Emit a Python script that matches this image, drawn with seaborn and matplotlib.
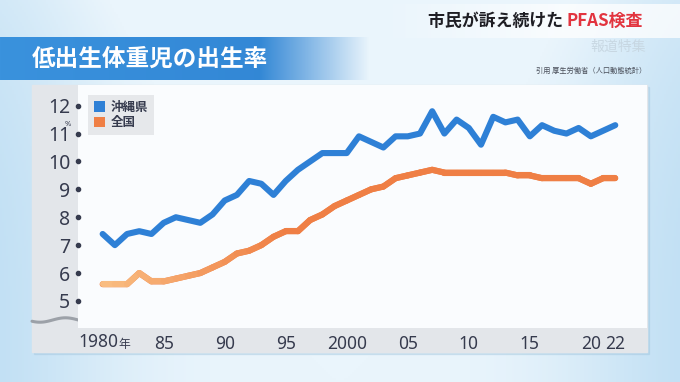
import numpy as np
import pandas as pd
import matplotlib
matplotlib.use("Agg")
import matplotlib.pyplot as plt
import matplotlib.transforms as mtransforms
from matplotlib.patches import Rectangle, Patch
from matplotlib.collections import LineCollection
from matplotlib.colors import to_rgb
import seaborn as sns

# ---------------- data ----------------
years = list(range(1980, 2023))
okinawa = [7.4, 7.0, 7.4, 7.5, 7.4, 7.8, 8.0, 7.9, 7.8, 8.1,
           8.6, 8.8, 9.3, 9.2, 8.8, 9.3, 9.7, 10.0, 10.3, 10.3,
           10.3, 10.9, 10.7, 10.5, 10.9, 10.9, 11.0, 11.8, 11.0, 11.5,
           11.2, 10.6, 11.6, 11.4, 11.5, 10.9, 11.3, 11.1, 11.0, 11.2,
           10.9, 11.1, 11.3]
zenkoku = [5.6, 5.6, 5.6, 6.0, 5.7, 5.7, 5.8, 5.9, 6.0, 6.2,
           6.4, 6.7, 6.8, 7.0, 7.3, 7.5, 7.5, 7.9, 8.1, 8.4,
           8.6, 8.8, 9.0, 9.1, 9.4, 9.5, 9.6, 9.7, 9.6, 9.6,
           9.6, 9.6, 9.6, 9.6, 9.5, 9.5, 9.4, 9.4, 9.4, 9.4,
           9.2, 9.4, 9.4]
series_names = ["沖縄県", "全国"]
ytick_values = [5, 6, 7, 8, 9, 10, 11, 12]
xtick_values = [1980, 1985, 1990, 1995, 2000, 2005, 2010, 2015, 2020, 2022]
xtick_labels = ["1980", "85", "90", "95", "2000", "05", "10", "15", "20", "22"]
title = "低出生体重児の出生率"
source = "引用 厚生労働省（人口動態統計）"

df = pd.DataFrame({
    "year": years * 2,
    "value": okinawa + zenkoku,
    "area": [series_names[0]] * len(years) + [series_names[1]] * len(years),
})

# ---------------- style ----------------
sns.set_style("white")
CJK = ["Noto Sans CJK JP", "DejaVu Sans"]
NUM = ["Noto Sans", "DejaVu Sans"]
plt.rcParams["font.family"] = CJK

BLUE = "#2E80D6"
ORANGE = "#EF7F45"
TXT = "#363B4E"

W, H = 680, 382
fig = plt.figure(figsize=(W / 100, H / 100), dpi=100)

# ---------------- background (pixel coordinates) ----------------
bg = fig.add_axes([0, 0, 1, 1])
bg.set_xlim(0, W)
bg.set_ylim(H, 0)
bg.axis("off")

xx = np.linspace(0, 1, 340)
yy = np.linspace(0, 1, 191)
X, Y = np.meshgrid(xx, yy)
edge = np.array(to_rgb("#BCDDF3"))
mid = np.array(to_rgb("#EAF5FC"))
w = np.exp(-((X - 0.5) / 0.42) ** 4)
w = np.clip(w + 0.35 * (1 - Y) ** 3, 0, 1)
img = edge[None, None, :] * (1 - w[..., None]) + mid[None, None, :] * w[..., None]
bg.imshow(img, extent=(0, W, H, 0), aspect="auto", zorder=0)

# white band behind the top-right headline
band = np.zeros((2, 300, 4))
band[..., :3] = 1.0
band[..., 3] = np.clip(np.linspace(0, 1.6, 300), 0, 1)[None, :] * 0.75
bg.imshow(band, extent=(380, W, 38, 4), aspect="auto", zorder=1)

# blue title banner
ban = np.zeros((2, 400, 4))
c1 = np.array(to_rgb("#3A92DD"))
c2 = np.array(to_rgb("#2F82D2"))
t = np.linspace(0, 1, 400)
ban[..., :3] = (c1[None, :] * (1 - t[:, None]) + c2[None, :] * t[:, None])[None, :, :]
alpha = np.clip((370 - np.linspace(0, 400, 400)) / 110, 0, 1)
ban[..., 3] = alpha[None, :]
bg.imshow(ban, extent=(0, 400, 80, 37), aspect="auto", zorder=2)

# chart panel
PL, PR, PT, PB, PBB = 32, 647, 85, 328, 352
AX_L = 78
bg.add_patch(Rectangle((PL + 2, PT + 2), PR - PL, PBB - PT, color="#9FC4DD", alpha=0.35, zorder=2))
bg.add_patch(Rectangle((PL, PT), PR - PL, PBB - PT, color="#E3E6EA", zorder=3))
# axis-break wave
wx = np.linspace(PL, AX_L, 60)
wy = 320 + 2.2 * np.sin((wx - PL) / (AX_L - PL) * 2 * np.pi * 0.9 + 0.6)
bg.plot(wx, wy, color="#9CA1A8", lw=2.2, solid_capstyle="round", zorder=4)

# texts on background
bg.text(32, 59, title, color="white", fontsize=17, fontweight="bold",
        va="center", ha="left", zorder=5)
t1 = bg.text(428, 21, "市民が訴え続けた ", color="#1E1E24", fontsize=12.2,
             fontweight="bold", va="center", ha="left", zorder=5)
bg.annotate("PFAS検査", xy=(1, 0.5), xycoords=t1, va="center", ha="left",
            color="#E2343F", fontsize=12.2, fontweight="bold", zorder=5)
bg.text(646, 47, "報道特集", color="#C6D5E0", fontsize=10, alpha=0.9,
        va="center", ha="right", zorder=5)
bg.text(646, 71, source, color="#4A4F5A", fontsize=5.2,
        va="center", ha="right", zorder=5)
bg.text(68, 124, "%", color=TXT, fontsize=5.5, family=NUM,
        va="center", ha="center", zorder=5)

# ---------------- main axes ----------------
ax = fig.add_axes([AX_L / W, (H - PB) / H, (PR - AX_L) / W, (PB - PT) / H])
ax.set_facecolor("#FAFCFE")
for s in ax.spines.values():
    s.set_visible(False)

sns.lineplot(data=df, x="year", y="value", hue="area", hue_order=series_names,
             palette={series_names[0]: BLUE, series_names[1]: ORANGE},
             linewidth=4.4, legend=False, ax=ax, zorder=3)
for ln in ax.lines:
    ln.set_solid_joinstyle("round")
    ln.set_solid_capstyle("round")

# lighter start of the national line (gradient overlay built from the drawn line)
oline = ax.lines[1]
xy = oline.get_xydata()
segs = [xy[i:i + 2] for i in range(len(xy) - 1)]
light = np.array(to_rgb("#F9BE82"))
dark = np.array(to_rgb(ORANGE))
cols = []
for i in range(len(segs)):
    f = np.clip((segs[i][:, 0].mean() - 1980) / 15.0, 0, 1)
    cols.append(light * (1 - f) + dark * f)
lc = LineCollection(segs, colors=cols, linewidths=4.4, capstyle="round",
                    joinstyle="round", zorder=4)
ax.add_collection(lc)

ax.set_xlim(1977.98, 2024.6)
ax.set_ylim(4.03, 12.74)
ax.set_xlabel("")
ax.set_ylabel("")

ax.set_yticks(ytick_values)
ax.set_yticklabels([str(v) for v in ytick_values], family=NUM, fontsize=14,
                   color=TXT)
ax.tick_params(axis="y", length=0, pad=5.5)
ax.set_xticks(xtick_values)
ax.set_xticklabels([""] + xtick_labels[1:], family=NUM, fontsize=12.5, color=TXT)
ax.tick_params(axis="x", length=0, pad=5)

# tick dots on the y axis
tr = mtransforms.blended_transform_factory(ax.transAxes, ax.transData)
ax.scatter([0.0] * len(ytick_values), ytick_values, s=9, color=TXT,
           transform=tr, clip_on=False, zorder=6)

# first x label with a small 年
trx = mtransforms.blended_transform_factory(ax.transData, ax.transAxes)
lab = ax.text(xtick_values[0] + 1.25, -0.078, xtick_labels[0], family=NUM,
              fontsize=12.5, color=TXT, ha="right", va="baseline", transform=trx)
ax.annotate("年", xy=(1, 0), xycoords=lab, ha="left", va="bottom",
            fontsize=8.5, color=TXT, xytext=(0.5, 0.3), textcoords="offset points")

# legend
handles = [Patch(facecolor=BLUE, edgecolor="none", label=series_names[0]),
           Patch(facecolor=ORANGE, edgecolor="none", label=series_names[1])]
leg = ax.legend(handles=handles, loc="upper left",
                bbox_to_anchor=((88 - AX_L) / (PR - AX_L), (PB - 95) / (PB - PT)),
                borderaxespad=0, frameon=True, fancybox=False,
                prop={"family": CJK, "size": 9, "weight": "bold"},
                handlelength=0.9, handleheight=0.9, handletextpad=0.45,
                labelspacing=0.22, borderpad=0.45)
leg.get_frame().set_facecolor("#E6E8EB")
leg.get_frame().set_edgecolor("none")
leg.get_frame().set_alpha(1)
for txt in leg.get_texts():
    txt.set_color(TXT)

fig.savefig("out.png", dpi=100)
